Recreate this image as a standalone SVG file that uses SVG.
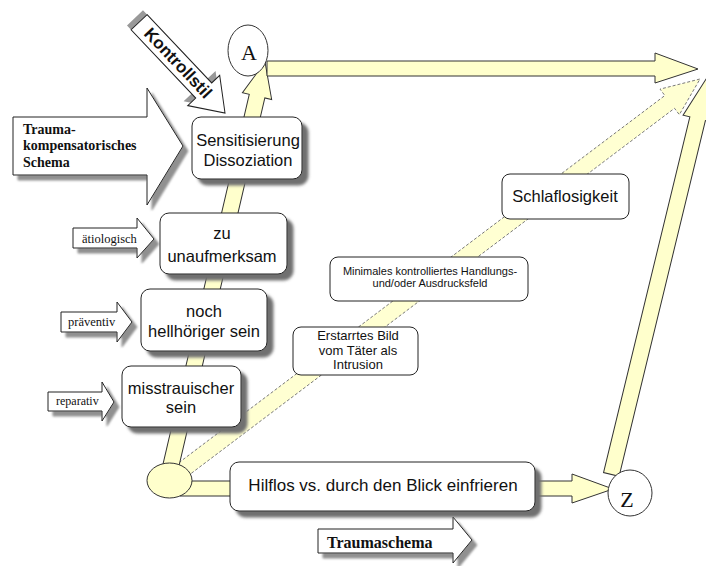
<svg xmlns="http://www.w3.org/2000/svg" width="706" height="566" viewBox="0 0 706 566">
<defs>
<filter id="bs" x="-10%" y="-10%" width="130%" height="140%"><feDropShadow dx="6" dy="6" stdDeviation="1.5" flood-color="#707070" flood-opacity="1"/></filter>
<filter id="as" x="-10%" y="-10%" width="130%" height="140%"><feDropShadow dx="5" dy="5" stdDeviation="1" flood-color="#909090" flood-opacity="1"/></filter>
</defs>
<style>
.box{fill:#fff;stroke:#222;stroke-width:1}
.yl{fill:#FFFFCC;stroke:#333;stroke-width:1}
.yd{fill:#FFFFD2;stroke:#777;stroke-width:0.9;stroke-dasharray:3 2}
.wa{fill:#fff;stroke:#222;stroke-width:1}
.t{font-family:"Liberation Sans",Arial,sans-serif;fill:#111;text-anchor:middle}
.s{font-family:"Liberation Serif","Times New Roman",serif;fill:#111}
.b{font-weight:bold}
.el{fill:#fff;stroke:#333;stroke-width:1}
</style>
<rect width="706" height="566" fill="#fff"/>

<g id="connectors">
  <polygon class="yd" transform="translate(700,79) rotate(-37.07)" points="-662,-8 -38,-8 -38,-16 0,0 -38,16 -38,8 -662,8"/>
  <polygon class="yl" transform="translate(265,62) rotate(-76.87)" points="-427,-8 -35,-8 -35,-15 0,0 -35,15 -35,8 -427,8"/>
  <polygon class="yl" points="267,61 655,61 655,53 698,69 655,83 655,76 267,76"/>
  <polygon class="yl" transform="translate(708,76) rotate(-76.36)" points="-410,-8 -44,-8 -44,-15 0,0 -44,15 -44,8 -410,8"/>
  <polygon class="yl" points="180,481 572,481 572,474 613,489 572,503 572,496 180,496"/>
</g>

<g id="node-start">
  <ellipse cx="169.5" cy="480.5" rx="22.5" ry="17.5" fill="#FFFFCC" stroke="#333" stroke-width="1"/>
</g>

<g id="node-A">
  <ellipse class="el" cx="248" cy="50.5" rx="20" ry="25.5"/>
  <text class="s" x="249" y="60" font-size="22" text-anchor="middle">A</text>
</g>

<g id="node-Z">
  <ellipse class="el" cx="630" cy="493" rx="22" ry="23"/>
  <text class="s" x="627" y="507" font-size="22" text-anchor="middle">Z</text>
</g>

<g id="node-kontrollstil">
  <g transform="translate(225,113) rotate(46.6)">
    <polygon transform="translate(-6,0)" fill="#999" points="-125,-11 -31,-11 -31,-22 0,0 -31,22 -31,11 -125,11"/>
    <polygon class="wa" points="-125,-11 -31,-11 -31,-22 0,0 -31,22 -31,11 -125,11"/>
    <text class="t b" x="-68.5" y="0" font-size="17" dominant-baseline="central">Kontrollstil</text>
  </g>
</g>

<g id="node-trauma-kompensatorisch">
  <polygon class="wa" filter="url(#as)" points="13,117 147,117 147,88 183,146 147,205 147,175 13,175"/>
  <text class="s b" x="23" y="134" font-size="14">Trauma-</text>
  <text class="s b" x="23" y="150" font-size="14">kompensatorisches</text>
  <text class="s b" x="23" y="167" font-size="14">Schema</text>
</g>

<g id="node-aetiologisch">
  <polygon class="wa" filter="url(#as)" points="73,228 137,228 137,218 154,239 137,258 137,248 73,248"/>
  <text class="s" x="82" y="243" font-size="12.5">ätiologisch</text>
</g>

<g id="node-praeventiv">
  <polygon class="wa" filter="url(#as)" points="61,312 117,312 117,302 132,322 117,342 117,332 61,332"/>
  <text class="s" x="68" y="326" font-size="12.5">präventiv</text>
</g>

<g id="node-reparativ">
  <polygon class="wa" filter="url(#as)" points="48,392 102,392 102,382 114,402 102,421 102,411 48,411"/>
  <text class="s" x="56" y="405" font-size="12">reparativ</text>
</g>

<g id="node-traumaschema">
  <polygon class="wa" filter="url(#as)" points="318,529 453,529 453,517 472,540 453,563 453,553 318,553"/>
  <text class="s b" x="327" y="548" font-size="16">Traumaschema</text>
</g>

<g id="node-sensitisierung">
  <rect class="box" filter="url(#bs)" x="192" y="117" width="110" height="62" rx="9"/>
  <text class="t" x="248" y="146" font-size="16.5">Sensitisierung</text>
  <text class="t" x="248" y="166" font-size="16.5">Dissoziation</text>
</g>

<g id="node-zu">
  <rect class="box" filter="url(#bs)" x="160" y="213" width="127" height="61" rx="9"/>
  <text class="t" x="222" y="239" font-size="16.5">zu</text>
  <text class="t" x="222" y="262" font-size="16.5">unaufmerksam</text>
</g>

<g id="node-noch">
  <rect class="box" filter="url(#bs)" x="141" y="289" width="126" height="62" rx="9"/>
  <text class="t" x="204" y="317" font-size="16.5">noch</text>
  <text class="t" x="204" y="337" font-size="16.5">hellhöriger sein</text>
</g>

<g id="node-misstrauisch">
  <rect class="box" filter="url(#bs)" x="122" y="366" width="119" height="61" rx="9"/>
  <text class="t" x="181" y="394" font-size="16.5">misstrauischer</text>
  <text class="t" x="181" y="413" font-size="16.5">sein</text>
</g>

<g id="node-hilflos">
  <rect class="box" filter="url(#bs)" x="230" y="462" width="305" height="49" rx="9"/>
  <text class="t" x="383" y="491" font-size="17">Hilflos vs. durch den Blick einfrieren</text>
</g>

<g id="node-schlaflosigkeit">
  <rect class="box" x="502" y="174" width="127" height="45" rx="8"/>
  <text class="t" x="565" y="202" font-size="16.5">Schlaflosigkeit</text>
</g>

<g id="node-minimales">
  <rect class="box" x="330" y="257" width="198" height="44" rx="8"/>
  <text class="t" x="430" y="275" font-size="11">Minimales kontrolliertes Handlungs-</text>
  <text class="t" x="430" y="287" font-size="11">und/oder Ausdrucksfeld</text>
</g>

<g id="node-erstarrtes">
  <rect class="box" x="293" y="327" width="125" height="48" rx="8"/>
  <text class="t" x="358" y="340" font-size="13">Erstarrtes Bild</text>
  <text class="t" x="358" y="354.5" font-size="13">vom Täter als</text>
  <text class="t" x="358" y="369" font-size="13">Intrusion</text>
</g>
</svg>
